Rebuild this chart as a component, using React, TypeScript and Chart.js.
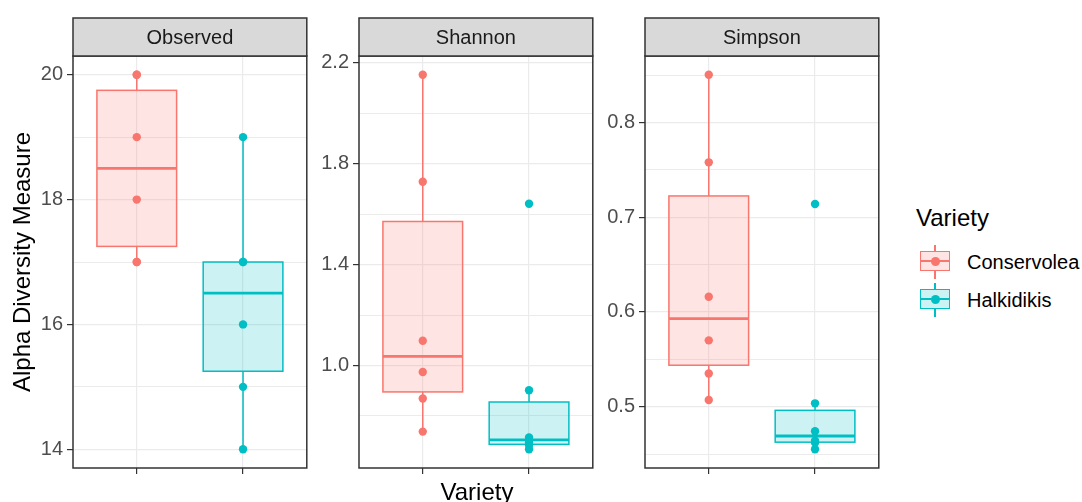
import React, { useEffect, useRef } from "react";
import { Chart, registerables } from "chart.js";

Chart.register(...registerables);

// ---------------- data ----------------
const varieties = ["Conservolea", "Halkidikis"];
const measures = ["Observed", "Shannon", "Simpson"];

const observedConservolea = [17, 17, 18, 19, 20, 20];
const observedHalkidikis = [14, 15, 16, 17, 17, 19];
const shannonConservolea = [0.738, 0.869, 0.974, 1.098, 1.728, 2.152];
const shannonHalkidikis = [0.668, 0.685, 0.695, 0.715, 0.902, 1.641];
const simpsonConservolea = [0.507, 0.535, 0.57, 0.616, 0.758, 0.8505];
const simpsonHalkidikis = [0.455, 0.462, 0.464, 0.474, 0.5035, 0.714];

const observedTicks = [14, 16, 18, 20];
const observedMinor = [15, 17, 19];
const shannonTicks = [1.0, 1.4, 1.8, 2.2];
const shannonMinor = [0.8, 1.2, 1.6, 2.0];
const simpsonTicks = [0.5, 0.6, 0.7, 0.8];
const simpsonMinor = [0.45, 0.55, 0.65, 0.75, 0.85];

const xTitle = "Variety";
const yTitle = "Alpha Diversity Measure";
const legendTitle = "Variety";

// ---------------- styles ----------------
const lineColors = ["#F8766D", "#00BFC4"];
const fillColors = ["rgba(248,118,109,0.2)", "rgba(0,191,196,0.2)"];
const FONT = '"Liberation Sans", Arial, sans-serif';
const SMALL = 20;
const BIG = 24;

const panelLefts = [73, 359, 645];
const PANEL_W = 236;
const AXIS_W = 73;
const STRIP_TOP = 18;
const PLOT_TOP = 56;
const PLOT_BOTTOM = 468;
const H = 502;

type Panel = {
  name: string;
  groups: number[][];
  ticks: number[];
  minor: number[];
  decimals: number;
};

const panels: Panel[] = [
  { name: measures[0], groups: [observedConservolea, observedHalkidikis], ticks: observedTicks, minor: observedMinor, decimals: 0 },
  { name: measures[1], groups: [shannonConservolea, shannonHalkidikis], ticks: shannonTicks, minor: shannonMinor, decimals: 1 },
  { name: measures[2], groups: [simpsonConservolea, simpsonHalkidikis], ticks: simpsonTicks, minor: simpsonMinor, decimals: 1 },
];

function quantile(sorted: number[], p: number) {
  const h = (sorted.length - 1) * p;
  const lo = Math.floor(h);
  const hi = Math.min(lo + 1, sorted.length - 1);
  return sorted[lo] + (h - lo) * (sorted[hi] - sorted[lo]);
}

function boxStats(values: number[]) {
  const s = [...values].sort((a, b) => a - b);
  const q1 = quantile(s, 0.25);
  const med = quantile(s, 0.5);
  const q3 = quantile(s, 0.75);
  const iqr = q3 - q1;
  const lo = Math.min(...s.filter((v) => v >= q1 - 1.5 * iqr));
  const hi = Math.max(...s.filter((v) => v <= q3 + 1.5 * iqr));
  return { q1, med, q3, lo, hi };
}

function PanelChart({ panel, left }: { panel: Panel; left: number }) {
  const ref = useRef<HTMLCanvasElement | null>(null);
  useEffect(() => {
    if (!ref.current) return;
    const all = panel.groups.flat();
    const dmin = Math.min(...all);
    const dmax = Math.max(...all);
    const pad = (dmax - dmin) * 0.05;
    const yMin = dmin - pad;
    const yMax = dmax + pad;

    const boxPlugin = {
      id: "boxes",
      beforeDatasetsDraw(chart: any) {
        const ctx = chart.ctx;
        const xs = chart.scales.x;
        const ys = chart.scales.y;
        const area = chart.chartArea;
        ctx.save();
        ctx.beginPath();
        ctx.rect(area.left, area.top, area.right - area.left, area.bottom - area.top);
        ctx.clip();
        panel.groups.forEach((vals, i) => {
          const st = boxStats(vals);
          const xc = xs.getPixelForValue(i + 1);
          const x0 = xs.getPixelForValue(i + 1 - 0.375);
          const x1 = xs.getPixelForValue(i + 1 + 0.375);
          const yq1 = ys.getPixelForValue(st.q1);
          const yq3 = ys.getPixelForValue(st.q3);
          const ymed = ys.getPixelForValue(st.med);
          const ylo = ys.getPixelForValue(st.lo);
          const yhi = ys.getPixelForValue(st.hi);
          ctx.strokeStyle = lineColors[i];
          ctx.lineWidth = 1.5;
          ctx.beginPath();
          ctx.moveTo(xc, yq3);
          ctx.lineTo(xc, yhi);
          ctx.moveTo(xc, yq1);
          ctx.lineTo(xc, ylo);
          ctx.stroke();
          ctx.fillStyle = fillColors[i];
          ctx.fillRect(x0, yq3, x1 - x0, yq1 - yq3);
          ctx.strokeRect(x0, yq3, x1 - x0, yq1 - yq3);
          ctx.lineWidth = 2.8;
          ctx.beginPath();
          ctx.moveTo(x0, ymed);
          ctx.lineTo(x1, ymed);
          ctx.stroke();
        });
        ctx.restore();
      },
      afterDraw(chart: any) {
        const ctx = chart.ctx;
        const a = chart.chartArea;
        ctx.save();
        ctx.strokeStyle = "#333333";
        ctx.lineWidth = 1.5;
        ctx.strokeRect(a.left, a.top, a.right - a.left, a.bottom - a.top);
        ctx.fillStyle = "#D9D9D9";
        ctx.fillRect(a.left, STRIP_TOP, a.right - a.left, a.top - STRIP_TOP);
        ctx.strokeRect(a.left, STRIP_TOP, a.right - a.left, a.top - STRIP_TOP);
        ctx.fillStyle = "#1A1A1A";
        ctx.font = `${SMALL}px ${FONT}`;
        ctx.textAlign = "center";
        ctx.textBaseline = "middle";
        ctx.fillText(panel.name, (a.left + a.right) / 2, (STRIP_TOP + a.top) / 2 + 1);
        ctx.restore();
      },
    };

    const chart = new Chart(ref.current, {
      type: "scatter",
      data: {
        datasets: panel.groups.map((vals, i) => ({
          label: varieties[i],
          data: vals.map((v) => ({ x: i + 1, y: v })),
          backgroundColor: lineColors[i],
          borderColor: lineColors[i],
          pointRadius: 4.2,
          pointBorderWidth: 0,
        })),
      },
      options: {
        responsive: false,
        animation: false,
        events: [],
        layout: { padding: { left: 0, right: 2, top: PLOT_TOP, bottom: 0 } },
        plugins: { legend: { display: false }, tooltip: { enabled: false } },
        scales: {
          x: {
            type: "linear",
            min: 0.4,
            max: 2.6,
            afterBuildTicks: (s: any) => {
              s.ticks = [{ value: 1 }, { value: 2 }];
            },
            afterFit: (s: any) => {
              s.height = H - PLOT_BOTTOM;
            },
            ticks: { display: false, callback: () => "" },
            grid: { color: "#EBEBEB", lineWidth: 1.2, tickColor: "#333333", tickLength: 6, drawTicks: true },
            border: { display: false },
          },
          y: {
            type: "linear",
            min: yMin,
            max: yMax,
            afterBuildTicks: (s: any) => {
              const t = [
                ...panel.ticks.map((v) => ({ value: v, minor: false })),
                ...panel.minor.map((v) => ({ value: v, minor: true })),
              ].filter((t) => t.value >= yMin && t.value <= yMax);
              t.sort((a, b) => a.value - b.value);
              s.ticks = t;
            },
            afterFit: (s: any) => {
              s.width = AXIS_W;
            },
            ticks: {
              autoSkip: false,
              padding: 4,
              color: "#4D4D4D",
              font: { size: SMALL, family: FONT },
              callback: (value: any, index: number, ticks: any[]) =>
                ticks[index] && ticks[index].minor ? "" : Number(value).toFixed(panel.decimals),
            },
            grid: {
              color: "#EBEBEB",
              lineWidth: (c: any) => (c.tick && c.tick.minor ? 1 : 1.2),
              tickColor: (c: any) => (c.tick && c.tick.minor ? "rgba(0,0,0,0)" : "#333333"),
              tickLength: 6,
            },
            border: { display: false },
          },
        },
      },
      plugins: [boxPlugin],
    } as any);
    return () => chart.destroy();
  }, [panel]);

  const w = AXIS_W + PANEL_W + 2;
  return (
    <canvas
      ref={ref}
      width={w}
      height={H}
      style={{ position: "absolute", left: left - AXIS_W, top: 0, width: w, height: H }}
    />
  );
}

function LegendKey({ i, top }: { i: number; top: number }) {
  const c = lineColors[i];
  return (
    <div style={{ position: "absolute", left: 918, top, width: 34, height: 34 }}>
      <div style={{ position: "absolute", left: 16, top: 0, width: 1.5, height: 34, background: c }} />
      <div
        style={{
          position: "absolute",
          left: 2,
          top: 6,
          width: 30,
          height: 20,
          boxSizing: "border-box",
          border: `1.5px solid ${c}`,
          background: "#fff",
        }}
      >
        <div style={{ position: "absolute", inset: 0, background: fillColors[i] }} />
      </div>
      <div style={{ position: "absolute", left: 2, top: 15, width: 30, height: 2.4, background: c }} />
      <div
        style={{ position: "absolute", left: 12.75, top: 12, width: 9, height: 9, borderRadius: "50%", background: c }}
      />
    </div>
  );
}

export default function App() {
  return (
    <div
      style={{
        position: "absolute",
        left: 0,
        top: 0,
        width: 1082,
        height: H,
        background: "#fff",
        overflow: "hidden",
        fontFamily: FONT,
      }}
    >
      {panels.map((p, i) => (
        <PanelChart key={p.name} panel={p} left={panelLefts[i]} />
      ))}
      <div
        style={{
          position: "absolute",
          left: 22 - 200,
          top: (PLOT_TOP + PLOT_BOTTOM) / 2 - BIG / 2,
          width: 400,
          height: BIG,
          lineHeight: `${BIG}px`,
          textAlign: "center",
          fontSize: BIG,
          color: "#000",
          transform: "rotate(-90deg)",
          whiteSpace: "nowrap",
        }}
      >
        {yTitle}
      </div>
      <div
        style={{
          position: "absolute",
          left: (panelLefts[0] + panelLefts[2] + PANEL_W) / 2 - 100,
          top: 480,
          width: 200,
          lineHeight: `${BIG}px`,
          textAlign: "center",
          fontSize: BIG,
          color: "#000",
        }}
      >
        {xTitle}
      </div>
      <div
        style={{ position: "absolute", left: 916, top: 206, lineHeight: `${BIG}px`, fontSize: BIG, color: "#000" }}
      >
        {legendTitle}
      </div>
      {varieties.map((v, i) => (
        <React.Fragment key={v}>
          <LegendKey i={i} top={245 + i * 38} />
          <div
            style={{
              position: "absolute",
              left: 967,
              top: 262 + i * 38 - SMALL / 2,
              lineHeight: `${SMALL}px`,
              fontSize: SMALL,
              color: "#000",
              whiteSpace: "nowrap",
            }}
          >
            {v}
          </div>
        </React.Fragment>
      ))}
    </div>
  );
}
